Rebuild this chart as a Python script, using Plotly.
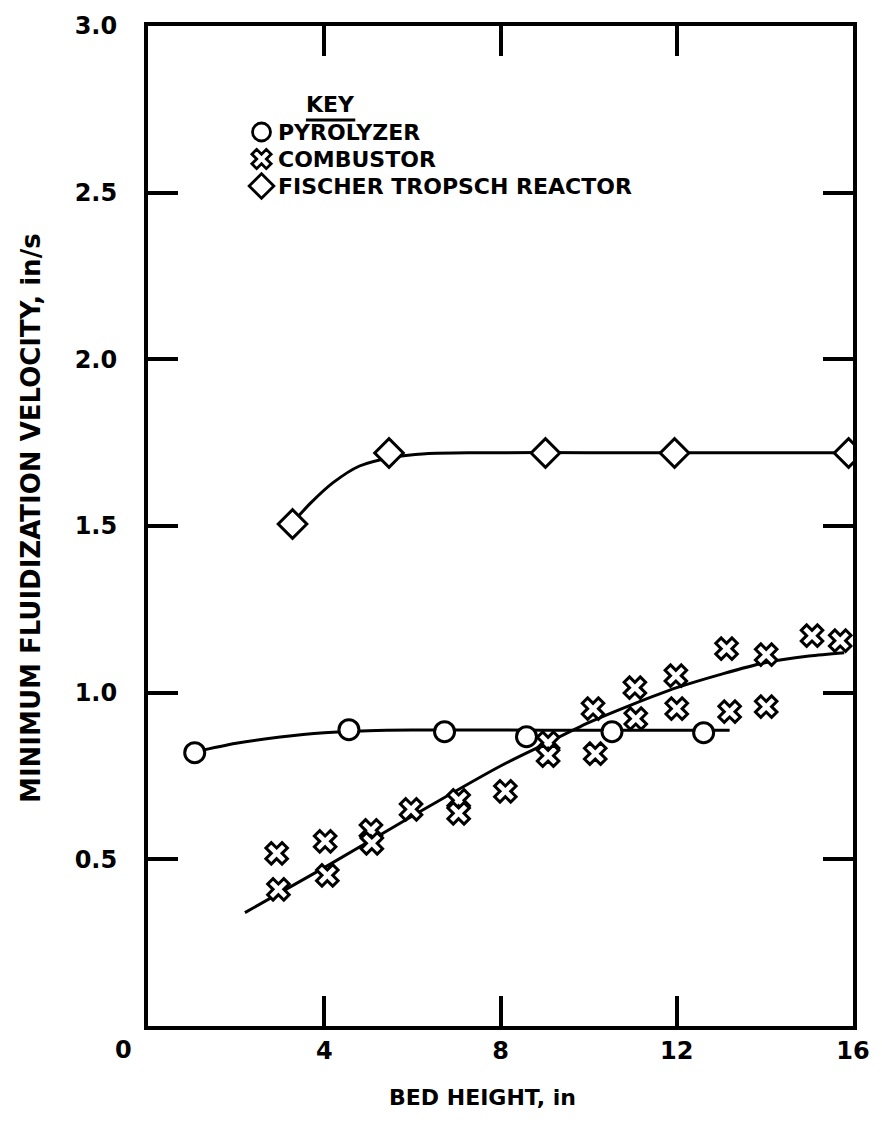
import plotly.graph_objects as go

# ---------------- data ----------------
pyro_x = [1.06, 4.56, 6.73, 8.59, 10.53, 12.61]
pyro_y = [0.820, 0.889, 0.883, 0.868, 0.883, 0.880]

comb_x = [2.92, 2.96, 4.02, 4.07, 5.06, 5.08, 5.97, 7.05, 7.05, 8.11, 9.08, 9.08,
          10.10, 10.15, 11.05, 11.07, 11.98, 12.00, 13.13, 13.20, 14.03, 14.03, 15.07, 15.71]
comb_y = [0.518, 0.410, 0.554, 0.452, 0.587, 0.548, 0.650, 0.677, 0.638, 0.704, 0.850, 0.811,
          0.952, 0.817, 1.015, 0.922, 1.051, 0.952, 1.132, 0.943, 1.114, 0.958, 1.171, 1.156]

ft_x = [3.28, 5.47, 9.02, 11.95, 15.90]
ft_y = [1.506, 1.719, 1.719, 1.719, 1.719]

# fitted curves drawn in the original
pyro_curve_x = [1.06, 2.0, 3.0, 4.0, 5.0, 6.0, 8.0, 10.0, 12.0, 13.2]
pyro_curve_y = [0.822, 0.848, 0.867, 0.880, 0.886, 0.888, 0.888, 0.887, 0.887, 0.887]

comb_curve_x = [2.2, 4.0, 6.0, 8.0, 9.0, 10.0, 11.0, 12.0, 13.0, 14.0, 15.0, 15.8]
comb_curve_y = [0.34, 0.475, 0.63, 0.78, 0.845, 0.91, 0.965, 1.015, 1.055, 1.09, 1.11, 1.12]

ft_curve_x = [3.28, 3.7, 4.2, 4.8, 5.5, 6.3, 7.5, 10.0, 13.0, 16.0]
ft_curve_y = [1.51, 1.57, 1.63, 1.68, 1.705, 1.717, 1.72, 1.72, 1.72, 1.72]

x_tickvals = [4, 8, 12, 16]
x_ticktext = ["4", "8", "12", "16"]
y_tickvals = [0.5, 1.0, 1.5, 2.0, 2.5, 3.0]
y_ticktext = ["0.5", "1.0", "1.5", "2.0", "2.5", "3.0"]

key_labels = ["PYROLYZER", "COMBUSTOR", "FISCHER TROPSCH REACTOR"]
key_symbols = ["circle", "x", "diamond"]
key_sizes = [18, 17, 19]
key_rows = [0.894, 0.867, 0.840]   # fraction of plot height
key_sym_x = 0.161
key_text_x = 0.182

FONT = "DejaVu Sans"
BLACK = "#000000"

fig = go.Figure()

# curves
for cx, cy in [(pyro_curve_x, pyro_curve_y), (comb_curve_x, comb_curve_y), (ft_curve_x, ft_curve_y)]:
    fig.add_trace(go.Scatter(x=cx, y=cy, mode="lines",
                             line=dict(color=BLACK, width=3, shape="spline", smoothing=0.8),
                             showlegend=False, hoverinfo="skip"))

# markers
fig.add_trace(go.Scatter(x=pyro_x, y=pyro_y, mode="markers", name="PYROLYZER",
                         marker=dict(symbol="circle", size=20, color="white",
                                     line=dict(color=BLACK, width=3)), showlegend=False))
fig.add_trace(go.Scatter(x=comb_x, y=comb_y, mode="markers", name="COMBUSTOR",
                         marker=dict(symbol="x", size=19, color="white",
                                     line=dict(color=BLACK, width=3)), showlegend=False))
fig.add_trace(go.Scatter(x=ft_x, y=ft_y, mode="markers", name="FISCHER TROPSCH REACTOR",
                         marker=dict(symbol="diamond", size=22, color="white",
                                     line=dict(color=BLACK, width=3)), showlegend=False))

# key symbols on an overlay axis (0..1 over the plot area)
for sym, sz, ry in zip(key_symbols, key_sizes, key_rows):
    fig.add_trace(go.Scatter(x=[key_sym_x], y=[ry], xaxis="x2", yaxis="y2", mode="markers",
                             marker=dict(symbol=sym, size=sz, color="white",
                                         line=dict(color=BLACK, width=2.8)),
                             showlegend=False, hoverinfo="skip", cliponaxis=False))

KEYFONT = dict(family=FONT, size=22, color=BLACK, weight="bold")
annotations = []
for lab, ry in zip(key_labels, key_rows):
    annotations.append(dict(text=lab, x=key_text_x, y=ry, xref="paper", yref="paper",
                            xanchor="left", yanchor="middle", showarrow=False, font=KEYFONT))
annotations.append(dict(text="KEY", x=0.259, y=0.921, xref="paper", yref="paper",
                        xanchor="center", yanchor="middle", showarrow=False, font=KEYFONT))
annotations.append(dict(text="0", x=0, y=0, xref="x", yref="paper", xshift=-25, yshift=-24,
                        xanchor="center", yanchor="middle", showarrow=False,
                        font=dict(family=FONT, size=24, color=BLACK, weight="bold")))
annotations.append(dict(text="BED HEIGHT, in", x=0.475, y=-0.071, xref="paper", yref="paper",
                        xanchor="center", yanchor="middle", showarrow=False,
                        font=dict(family=FONT, size=22, color=BLACK, weight="bold")))
annotations.append(dict(text="MINIMUM FLUIDIZATION VELOCITY, in/s", x=-0.166, y=0.508,
                        xref="paper", yref="paper", textangle=-90,
                        xanchor="center", yanchor="middle", showarrow=False,
                        font=dict(family=FONT, size=26, color=BLACK, weight="bold")))

axis_common = dict(showline=True, linewidth=4, linecolor=BLACK, mirror="ticks",
                   ticks="inside", ticklen=30, tickwidth=3.5, tickcolor=BLACK,
                   showgrid=False, zeroline=False,
                   tickfont=dict(family=FONT, size=24, color=BLACK, weight="bold"))

fig.update_layout(
    width=882, height=1136,
    margin=dict(l=148, r=26, t=24, b=110),
    paper_bgcolor="white", plot_bgcolor="white",
    showlegend=False,
    xaxis=dict(range=[0, 16], tickmode="array", tickvals=x_tickvals, ticktext=x_ticktext,
               ticklabelstandoff=0, **axis_common),
    yaxis=dict(range=[0, 3], tickmode="array", tickvals=y_tickvals, ticktext=y_ticktext,
               ticklabelstandoff=22, **axis_common),
    xaxis2=dict(overlaying="x", range=[0, 1], visible=False),
    yaxis2=dict(overlaying="y", range=[0, 1], visible=False),
    annotations=annotations,
    shapes=[dict(type="line", xref="paper", yref="paper", x0=0.224, x1=0.294, y0=0.906, y1=0.906,
                 line=dict(color=BLACK, width=3))],
)

fig.write_html("out.html")
